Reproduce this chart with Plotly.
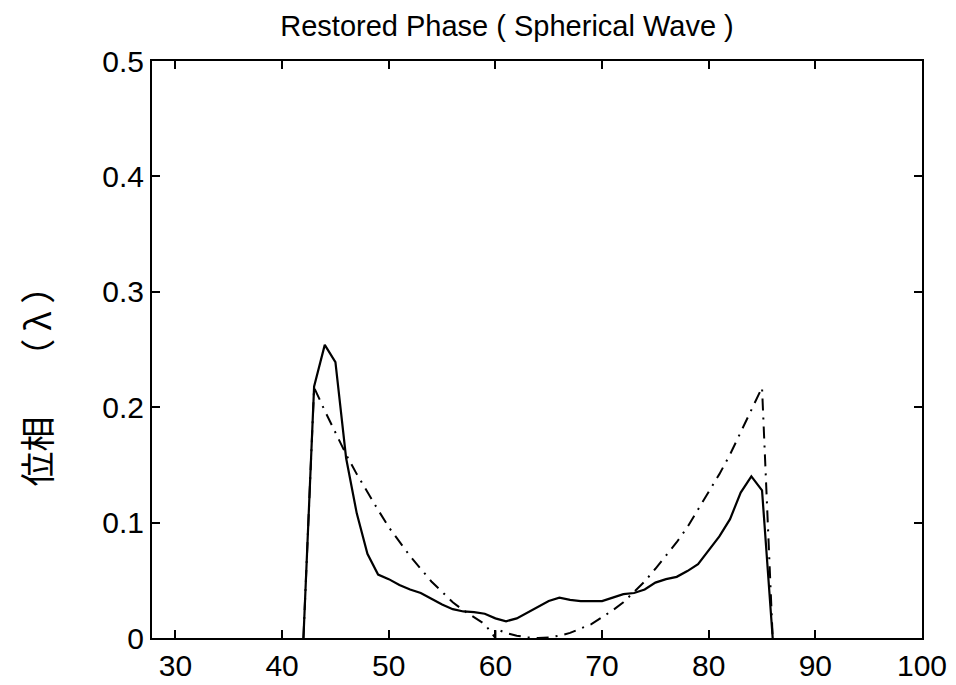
import plotly.graph_objects as go

# Measured (solid) phase
x_meas = [42, 43, 44, 45, 46, 47, 48, 49, 50, 51, 52, 53, 54, 55, 56, 57, 58, 59, 60, 61, 62, 63, 64,
          65, 66, 67, 68, 69, 70, 71, 72, 73, 74, 75, 76, 77, 78, 79, 80, 81, 82, 83, 84, 85, 86]
y_meas = [0.0, 0.218, 0.254, 0.239, 0.156, 0.108, 0.073, 0.055, 0.051, 0.046, 0.042, 0.039, 0.034,
          0.029, 0.025, 0.023, 0.0225, 0.021, 0.017, 0.0145, 0.017, 0.022, 0.027, 0.032, 0.035,
          0.033, 0.032, 0.032, 0.032, 0.035, 0.038, 0.039, 0.042, 0.048, 0.051, 0.053, 0.058,
          0.064, 0.076, 0.088, 0.103, 0.126, 0.140, 0.128, 0.0]

# Ideal spherical wave phase (dash-dot)
x_ideal = [42, 43, 44, 45, 46, 47, 48, 49, 50, 51, 52, 53, 54, 55, 56, 57, 58, 59, 60, 60, 61, 62, 63,
           64, 65, 66, 67, 68, 69, 70, 71, 72, 73, 74, 75, 76, 77, 78, 79, 80, 81, 82, 83, 84, 85, 86]
y_ideal = [0.0, 0.217, 0.197, 0.178, 0.159, 0.142, 0.126, 0.111, 0.096, 0.083, 0.071, 0.060, 0.049,
           0.040, 0.031, 0.024, 0.018, 0.012, 0.0, 0.008, 0.0044, 0.002, 0.0005, 0.0, 0.0005, 0.002,
           0.0044, 0.008, 0.012, 0.018, 0.024, 0.031, 0.040, 0.049, 0.060, 0.071, 0.083, 0.096,
           0.111, 0.126, 0.142, 0.159, 0.178, 0.197, 0.217, 0.0]

x_ticks = [30, 40, 50, 60, 70, 80, 90, 100]
y_ticks = [0, 0.1, 0.2, 0.3, 0.4, 0.5]
y_tick_text = ["0", "0.1", "0.2", "0.3", "0.4", "0.5"]

title_text = "Restored Phase ( Spherical Wave )"
ylabel_text = "位相　 （ λ ）"

fig = go.Figure()
fig.add_trace(go.Scatter(x=x_ideal, y=y_ideal, mode="lines",
                         line=dict(color="black", width=2, dash="12px,7px,2px,7px"), showlegend=False))
fig.add_trace(go.Scatter(x=x_meas, y=y_meas, mode="lines",
                         line=dict(color="black", width=2.2), showlegend=False))

axis_font = dict(family="Liberation Sans, Arial, sans-serif", size=30, color="black")

fig.update_layout(
    width=956, height=685,
    margin=dict(l=144, r=42, t=53, b=55),
    paper_bgcolor="white", plot_bgcolor="white",
    title=dict(text=title_text, x=0.522, xanchor="center", y=0.974, yanchor="middle",
               font=dict(family="Liberation Sans, Arial, sans-serif", size=29, color="black")),
    xaxis=dict(range=[27.8, 100], tickvals=x_ticks, ticks="inside", ticklen=8, tickwidth=1.5,
               tickcolor="black", showline=True, linecolor="black", linewidth=2, mirror="ticks",
               showgrid=False, zeroline=False, tickfont=axis_font),
    yaxis=dict(range=[0, 0.5], tickvals=y_ticks, ticktext=y_tick_text, ticks="inside", ticklen=8,
               tickwidth=1.5, tickcolor="black", showline=True, linecolor="black", linewidth=2,
               mirror="ticks", showgrid=False, zeroline=False, tickfont=axis_font),
    annotations=[dict(text=ylabel_text, xref="paper", yref="paper", x=-0.151, y=0.451,
                      xanchor="center", yanchor="middle", textangle=-90, showarrow=False,
                      font=dict(family="Noto Sans CJK JP", size=35, color="black"))],
)

fig.write_html("out.html")
